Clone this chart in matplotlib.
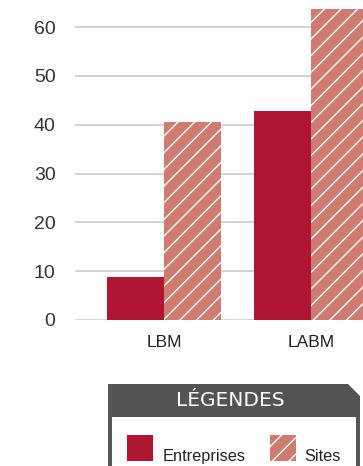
import numpy as np
import matplotlib.pyplot as plt
from matplotlib.patches import Rectangle, Polygon

plt.rcParams['hatch.color'] = 'white'
plt.rcParams['hatch.linewidth'] = 1.0

categories = ['LBM', 'LABM']
entreprises = [8.8, 42.8]
sites = [40.6, 70.0]
yticks = [0, 10, 20, 30, 40, 50, 60]

red = '#B01533'
salmon = '#CF7B70'

W, H = 363, 466
fig = plt.figure(figsize=(W / 100, H / 100), dpi=100)

# axes reaches a bit past the right edge, like the original crop
left_px, right_px, top_px, bot_px = 75, 370, 9, 320
ax = fig.add_axes([left_px / W, (H - bot_px) / H, (right_px - left_px) / W, (bot_px - top_px) / H])

x = np.arange(len(categories))
bw = 0.39
ax.bar(x - bw / 2, entreprises, bw, color=red, linewidth=0, zorder=3)
ax.bar(x + bw / 2, sites, bw, color=salmon, hatch='//', linewidth=0, zorder=3)

ax.set_xlim(-0.605, 1.40)
ax.set_ylim(0, 63.7)
ax.set_yticks(yticks)
ax.set_xticks(x)
ax.set_xticklabels(categories, fontsize=12.5, color='#222222', family='Liberation Sans')
ax.tick_params(axis='y', length=0, pad=14, labelsize=14, labelcolor='#333333')
ax.tick_params(axis='x', length=0, pad=11)
for lab in ax.get_yticklabels():
    lab.set_family('Liberation Sans')
ax.grid(axis='y', color='#cccccc', linewidth=1.2, zorder=0)
for s in ax.spines.values():
    s.set_visible(False)

# legend panel drawn in pixel coords
lg = fig.add_axes([0, 0, 1, 1], zorder=5)
lg.set_xlim(0, W)
lg.set_ylim(H, 0)
lg.axis('off')
lg.add_patch(Polygon([[108, 384], [348, 384], [360, 396], [360, 417], [108, 417]],
                     closed=True, color='#545454', lw=0))
lg.add_patch(Rectangle((108, 417), 4, 60, color='#545454', lw=0))
lg.add_patch(Rectangle((356, 417), 4, 60, color='#545454', lw=0))
lg.text(230, 401, 'LÉGENDES', color='white', fontsize=14.5, ha='center', va='center',
        family='DejaVu Sans')
lg.add_patch(Rectangle((127, 435), 26, 26, color=red, lw=0))
lg.add_patch(Rectangle((270, 435), 26, 26, facecolor=salmon, hatch='//', lw=0))
lg.text(163, 461, 'Entreprises', fontsize=11.8, color='#222222', va='baseline',
        family='Liberation Sans')
lg.text(304, 461, 'Sites', fontsize=11.8, color='#222222', va='baseline',
        family='Liberation Sans')

fig.savefig('out.png', dpi=100)
